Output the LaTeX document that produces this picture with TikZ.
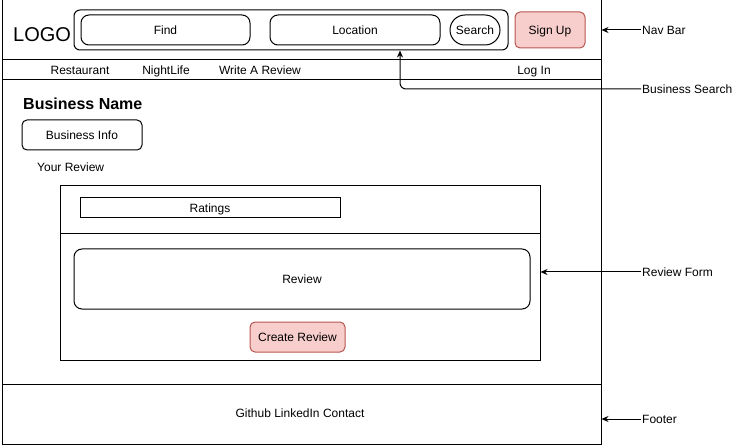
\documentclass[tikz,border=0pt]{standalone}
\usepackage{fontspec}
\setmainfont{Liberation Sans}
\usetikzlibrary{arrows.meta,positioning}
\definecolor{WfPink}{HTML}{F8CECC}
\definecolor{WfRed}{HTML}{B85450}
\tikzset{
  wf/frame/.style={
    draw=black,
    line width=1pt,
    fill=none,
    inner sep=0pt
  },
  wf/box/.style={
    draw=black,
    line width=1pt,
    fill=white,
    align=center,
    inner sep=0pt,
    text height=9pt,
    text depth=0pt,
    font=\fontsize{12}{14}\selectfont
  },
  wf/round/.style={
    wf/box,
    rounded corners=8pt
  },
  wf/pill/.style={
    wf/box,
    rounded corners=15pt
  },
  wf/btn/.style={
    wf/box,
    draw=WfRed,
    fill=WfPink,
    rounded corners=5pt
  },
  wf/text/.style={font=\fontsize{12}{14}\selectfont, inner sep=0pt, text height=9pt, text depth=0pt},
  wf/label/.style={font=\fontsize{12}{14}\selectfont, inner sep=1pt, anchor=west, text height=9pt, text depth=0pt},
  wf/arrow/.style={-{Stealth[length=7pt,width=6pt]}, line width=1pt, draw=black}
}

\begin{document}
\begin{tikzpicture}[x=1pt,y=-1pt]
  \useasboundingbox (0,0) rectangle (752,446);
  % page regions
  \node[wf/frame,minimum width=599,minimum height=60] (navbar) at (301.5,30) {};
  \node[wf/frame,minimum width=599,minimum height=20] (menubar) at (301.5,70) {};
  \node[wf/frame,minimum width=599,minimum height=304] (body) at (301.5,232) {};
  \node[wf/frame,minimum width=599,minimum height=60] (footer) at (301.5,414) {};
  % nav bar
  \node[wf/text,font=\fontsize{20}{24}\selectfont,text height=15pt,text depth=0pt,anchor=west] (logo) at (13,34) {LOGO};
  \node[wf/round,minimum width=434,minimum height=40,rounded corners=6pt,fill=none] (searchbar) at (291,30) {};
  \node[wf/round,minimum width=169,minimum height=30] (find) at (165.5,30) {Find};
  \node[wf/round,minimum width=170,minimum height=30] (loc) at (355,30) {Location};
  \node[wf/pill,minimum width=50,minimum height=30] (search) at (475,30) {Search};
  \node[wf/btn,minimum width=70,minimum height=36] (signup) at (550,30) {Sign Up};
  % menu
  \node[wf/text] (rest) at (80,70) {Restaurant};
  \node[wf/text] (night) at (166,70) {NightLife};
  \node[wf/text] (write) at (260,70) {Write A Review};
  \node[wf/text] (login) at (534,70) {Log In};
  % business
  \node[wf/text,font=\fontsize{16}{19}\bfseries,text height=12pt,text depth=0pt,anchor=west] (bizname) at (23,104) {Business Name};
  \node[wf/round,minimum width=120,minimum height=30,rounded corners=5pt] (bizinfo) at (82,135) {Business Info};
  \node[wf/text,anchor=west] (yourrev) at (37,167) {Your Review};
  % review form
  \node[wf/frame,minimum width=480,minimum height=174] (form) at (300,273) {};
  \draw[line width=1pt] (form.west |- 0,234) -- (form.east |- 0,234);
  \node[wf/box,minimum width=260,minimum height=20] (ratings) at (210,208) {Ratings};
  \node[wf/round,minimum width=456,minimum height=60] (review) at (302,279) {Review};
  \node[wf/btn,minimum width=95,minimum height=30] (create) at (297.5,337) {Create Review};
  % footer
  \node[wf/text] (links) at (300,413) {Github LinkedIn Contact};
  % annotations
  \node[wf/label] (navlbl) at (641,30) {Nav Bar};
  \node[wf/label] (searchlbl) at (641,89) {Business Search};
  \node[wf/label] (formlbl) at (641,272) {Review Form};
  \node[wf/label] (footlbl) at (641,419) {Footer};
  \draw[wf/arrow] (navlbl.west) -- (navbar.east |- navlbl.west);
  \draw[wf/arrow,rounded corners=6pt] (searchlbl.west) -| ([xshift=109pt]searchbar.south);
  \draw[wf/arrow] (formlbl.west) -- (form.east |- formlbl.west);
  \draw[wf/arrow] (footlbl.west) -- (footer.east |- footlbl.west);
\end{tikzpicture}
\end{document}
